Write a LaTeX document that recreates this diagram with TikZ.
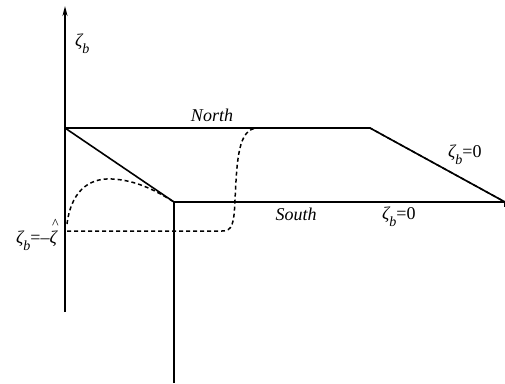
\documentclass[tikz,border=0pt]{standalone}
\usepackage{fontspec}
\setmainfont{Liberation Serif}
\usetikzlibrary{arrows.meta}
\newcommand{\zb}{{\itshape ζ}\raisebox{-0.4em}{\fontsize{14}{14}\selectfont\itshape b}}
\newcommand{\zhat}{\rlap{\raisebox{0.85em}{\hspace{0.15em}\fontsize{14}{14}\selectfont\textasciicircum}}{\itshape ζ}}
\begin{document}
\begin{tikzpicture}[x=1pt,y=-1pt,
  solidline/.style={line width=1.6pt},
  dashline/.style={line width=1.5pt,dash pattern=on 4pt off 3pt},
  lbl/.style={inner sep=0pt,font=\fontsize{18}{20}\selectfont}]
\useasboundingbox (0,0) rectangle (505,383);
\coordinate (o) at (65,128);
\coordinate (top) at (65,6);
\coordinate (abot) at (65,312);
\coordinate (ne) at (370,128);
\coordinate (se) at (505,202);
\coordinate (s0) at (174,202);
\coordinate (sbot) at (174,383);
\draw[solidline,-{Stealth[length=10pt,width=5pt]}] (abot) -- (top);
\draw[solidline] (o) -- (ne) -- (se) -- (s0) -- (o);
\draw[solidline] (s0) -- (sbot);
\draw[solidline] (se) -- ++(0,5);
% dashed curves
\draw[dashline] (67,224) .. controls (72,185) and (95,178) .. (112,179)
  .. controls (135,180) and (155,190) .. (s0) -- (se);
\draw[dashline] (67,231) -- (222,231) .. controls (232,231) and (234,225) .. (235,200)
  .. controls (237,160) and (238,128) .. (258,128) -- (ne) -- (se);
\node[lbl,anchor=west] (zb) at (75,44) {\zb};
\node[lbl] (north) at (212,115) {\itshape North};
\node[lbl] (south) at (296,214) {\itshape South};
\node[lbl,anchor=west] (z1) at (448,155) {\zb=0};
\node[lbl,anchor=west] (z2) at (382,217) {\zb=0};
\node[lbl,anchor=east] (z3) at (57,235) {\zb=--\zhat};
\end{tikzpicture}
\end{document}
